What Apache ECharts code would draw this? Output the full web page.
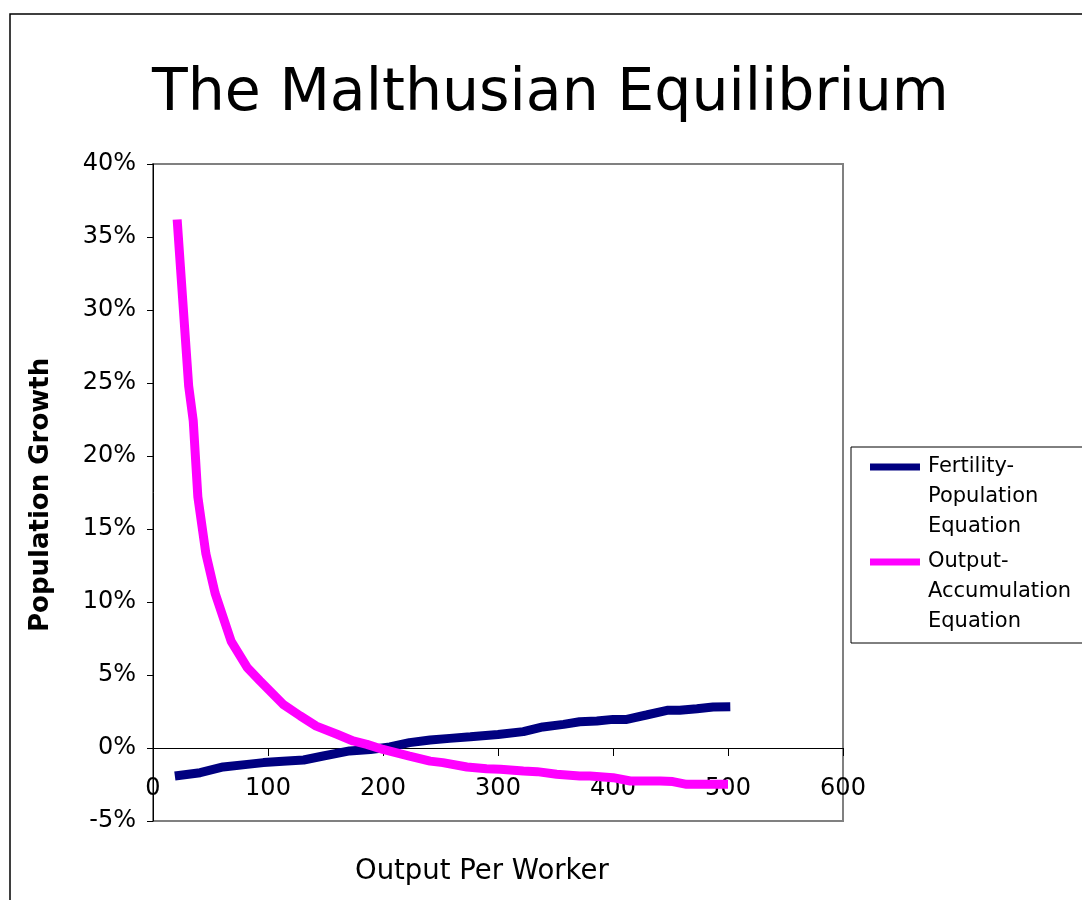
<!DOCTYPE html>
<html>
<head>
<meta charset="utf-8">
<title>The Malthusian Equilibrium</title>
<script src="https://cdn.jsdelivr.net/npm/echarts@6/dist/echarts.min.js"></script>
<style>
    html,body{margin:0;padding:0;background:#fff;}
    #chart{width:1082px;height:900px;}
</style>
</head>
<body>
<div id="chart"></div>
<script>
// 读图得到的数据 (x = output per worker, y = %)
const fertilityX = [19, 41, 61, 82, 96, 113, 131, 148, 171, 189, 206, 223, 241, 258, 276, 300, 322, 339, 357, 371, 386, 400, 412, 429, 447, 458, 473, 487, 502]
const fertilityY = [-1.92, -1.69, -1.3, -1.12, -1.0, -0.9, -0.82, -0.55, -0.2, -0.1, 0.07, 0.37, 0.55, 0.66, 0.77, 0.92, 1.12, 1.44, 1.62, 1.8, 1.85, 1.96, 1.96, 2.26, 2.58, 2.58, 2.69, 2.81, 2.83]
const outputX = [21, 31, 35, 39, 46, 54, 68, 82, 93, 113, 128, 142, 160, 174, 186, 200, 223, 241, 252, 273, 290, 302, 322, 334, 351, 371, 380, 400, 415, 441, 452, 464, 500]
const outputY = [36.2, 24.8, 22.4, 17.2, 13.3, 10.6, 7.3, 5.5, 4.6, 3.0, 2.2, 1.5, 0.94, 0.48, 0.25, -0.1, -0.55, -0.9, -1.0, -1.3, -1.42, -1.45, -1.58, -1.62, -1.8, -1.92, -1.92, -2.03, -2.26, -2.26, -2.3, -2.49, -2.49]
const seriesNames = ['Fertility-\nPopulation\nEquation', 'Output-\nAccumulation\nEquation']
const xTicks = [0, 600, 100]   // min, max, interval
const yTicks = [-5, 40, 5]

const font = 'DejaVu Sans'
const zip = (xs, ys) => xs.map((x, i) => [x, ys[i]])

const chart = echarts.init(document.querySelector('#chart'))
const option = {
    animation: false,
    title: {
        text: 'The Malthusian Equilibrium',
        left: 147,
        top: 60,
        textStyle: { fontFamily: font, fontSize: 58.5, fontWeight: 'normal', color: '#000' }
    },
    legend: {
        orient: 'vertical',
        left: 851,
        top: 447,
        padding: [5, 30, 6, 19],
        itemGap: 5,
        itemWidth: 53,
        itemHeight: 90,
        // 横线放在第一行文字旁边
        icon: 'path://M0,11.5L50,11.5L50,18.5L0,18.5Z M0,0L0.01,0 M53,90L53.01,90',
        itemStyle: { borderWidth: 0 },
        borderColor: '#000',
        borderWidth: 1,
        textStyle: { fontFamily: font, fontSize: 21, lineHeight: 30, color: '#000' }
    },
    grid: {
        left: 153, right: 239, top: 164, bottom: 79,
        show: true,
        borderColor: '#808080',
        borderWidth: 2
    },
    xAxis: {
        type: 'value',
        min: xTicks[0], max: xTicks[1], interval: xTicks[2],
        axisLine: { onZero: true, lineStyle: { color: '#000', width: 1 } },
        axisTick: { length: 8, lineStyle: { color: '#000' } },
        // 标签贴着 0% 线下方
        axisLabel: { margin: -44, fontFamily: font, fontSize: 24, color: '#000' },
        splitLine: { show: false }
    },
    yAxis: {
        type: 'value',
        min: yTicks[0], max: yTicks[1], interval: yTicks[2],
        axisLine: { show: true, onZero: false, lineStyle: { color: '#000', width: 1 } },
        axisTick: { show: true, length: 6, lineStyle: { color: '#000' } },
        axisLabel: { margin: 17, formatter: '{value}%', fontFamily: font, fontSize: 24, color: '#000' },
        splitLine: { show: false }
    },
    graphic: [
        // 外框
        { type: 'rect', shape: { x: 10, y: 14, width: 1200, height: 1000 }, style: { fill: null, stroke: '#000', lineWidth: 1.5 }, silent: true },
        { type: 'text', x: 355, y: 858, style: { text: 'Output Per Worker', font: `27.5px "${font}"`, fill: '#000' } },
        { type: 'text', x: 28, y: 632, rotation: Math.PI / 2, style: { text: 'Population Growth', font: `bold 26px "${font}"`, fill: '#000' } }
    ],
    series: [
        {
            name: seriesNames[0],
            type: 'line',
            data: zip(fertilityX, fertilityY),
            showSymbol: false,
            symbol: 'none',
            color: '#000080',
            lineStyle: { width: 9, color: '#000080' }
        },
        {
            name: seriesNames[1],
            type: 'line',
            data: zip(outputX, outputY),
            showSymbol: false,
            symbol: 'none',
            color: '#ff00ff',
            lineStyle: { width: 9, color: '#ff00ff' }
        }
    ]
}
chart.setOption(option)
</script>
</body>
</html>
